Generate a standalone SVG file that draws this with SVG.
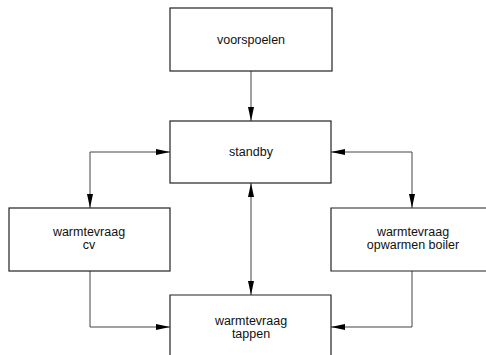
<svg xmlns="http://www.w3.org/2000/svg" width="486" height="355" viewBox="0 0 486 355">
<style>
.box{fill:#fff;stroke:#222;stroke-width:1.2}
.lbl{font-family:"Liberation Sans",Arial,sans-serif;font-size:12.5px;fill:#111;text-anchor:middle}
.con{fill:none;stroke:#444;stroke-width:1}
</style>
<defs>
<marker id="ah" markerUnits="userSpaceOnUse" viewBox="0 0 14 7" refX="14" refY="3.5" markerWidth="14" markerHeight="7" orient="auto-start-reverse">
<path d="M0,0.5 L14,3.5 L0,6.5 Z" fill="#000"/>
</marker>
</defs>
<rect width="486" height="355" fill="#fff"/>
<g id="connectors">
<path class="con" d="M251,71 V121" marker-end="url(#ah)"/>
<path class="con" d="M170,152 H90 V208" marker-start="url(#ah)" marker-end="url(#ah)"/>
<path class="con" d="M331,152 H412 V208" marker-start="url(#ah)" marker-end="url(#ah)"/>
<path class="con" d="M251,183 V295" marker-start="url(#ah)" marker-end="url(#ah)"/>
<path class="con" d="M90,271 V327 H170" marker-end="url(#ah)"/>
<path class="con" d="M412,271 V327 H331" marker-end="url(#ah)"/>
</g>
<g id="voorspoelen">
<rect class="box" x="170" y="8" width="162" height="63"/>
<text class="lbl" x="251" y="44">voorspoelen</text>
</g>
<g id="standby">
<rect class="box" x="170" y="121" width="161" height="62"/>
<text class="lbl" x="251" y="156">standby</text>
</g>
<g id="warmtevraag-cv">
<rect class="box" x="9" y="208" width="161" height="63"/>
<text class="lbl" x="89" y="236">warmtevraag</text>
<text class="lbl" x="89" y="249">cv</text>
</g>
<g id="warmtevraag-boiler">
<path class="box" d="M490,208 H331 V271 H490"/>
<text class="lbl" x="413" y="236">warmtevraag</text>
<text class="lbl" x="413" y="249">opwarmen boiler</text>
</g>
<g id="warmtevraag-tappen">
<path class="box" d="M170,360 V295 H331 V360"/>
<text class="lbl" x="251" y="325">warmtevraag</text>
<text class="lbl" x="251" y="338">tappen</text>
</g>
</svg>
